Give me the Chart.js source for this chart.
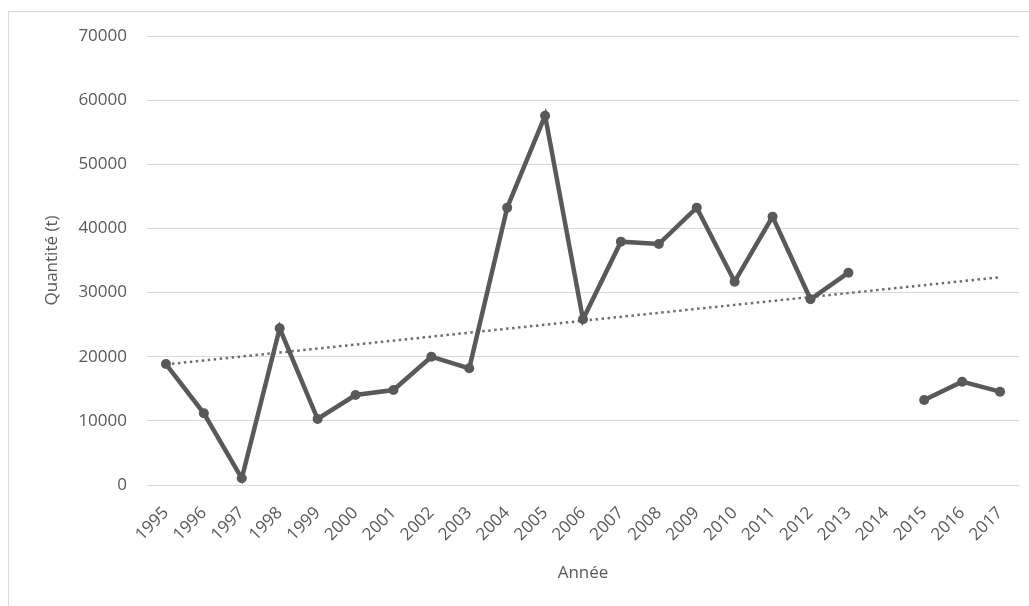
<!DOCTYPE html>
<html>
<head>
<meta charset="utf-8">
<script src="https://cdn.jsdelivr.net/npm/chart.js@4"></script>
<style>
  html, body { margin: 0; padding: 0; background: #fff; overflow: hidden; }
  #wrap { position: absolute; left: 0; top: 0; width: 1029px; height: 606px; }
</style>
</head>
<body>
<div id="wrap"><canvas id="c"></canvas></div>
<script>
const years = ['1995','1996','1997','1998','1999','2000','2001','2002','2003','2004','2005','2006','2007','2008','2009','2010','2011','2012','2013','2014','2015','2016','2017'];
const quantities = [18860, 11180, 1040, 24430, 10290, 14030, 14810, 20000, 18190, 43240, 57580, 25830, 37940, 37570, 43240, 31700, 41840, 28950, 33100, null, 13250, 16110, 14550];
const trendEnds = [18800, 32400];
const trend = years.map((y, i) => i === 0 ? trendEnds[0] : (i === years.length - 1 ? trendEnds[1] : null));
const yTicks = { min: 0, max: 70000, step: 10000 };

const FONT = '"Open Sans", "Noto Sans", sans-serif';
const GRAY = '#595959';

const frame = {
  id: 'frame',
  beforeDraw(chart) {
    const ctx = chart.ctx;
    ctx.save();
    ctx.fillStyle = '#fff';
    ctx.fillRect(0, 0, chart.width, chart.height);
    ctx.strokeStyle = '#d9d9d9';
    ctx.lineWidth = 1;
    ctx.strokeRect(8.5, 11.5, 1200, 800);
    ctx.restore();
  }
};

new Chart(document.getElementById('c'), {
  type: 'line',
  data: {
    labels: years,
    datasets: [
      {
        label: 'Quantité',
        data: quantities,
        borderColor: GRAY,
        backgroundColor: GRAY,
        borderWidth: 4.5,
        pointRadius: 5,
        pointHoverRadius: 5,
        pointBackgroundColor: GRAY,
        pointBorderWidth: 0,
        tension: 0,
        spanGaps: false,
        order: 1
      },
      {
        label: 'Tendance',
        data: trend,
        borderColor: '#6e6e6e',
        borderWidth: 2.5,
        borderDash: [2.5, 3.5],
        borderCapStyle: 'butt',
        pointRadius: 0,
        tension: 0,
        spanGaps: true,
        order: 2
      }
    ]
  },
  options: {
    responsive: true,
    maintainAspectRatio: false,
    animation: false,
    devicePixelRatio: 1,
    layout: { padding: { left: 0, right: 10, top: 36, bottom: 0 } },
    plugins: { legend: { display: false }, tooltip: { enabled: false } },
    scales: {
      x: {
        offset: true,
        grid: { display: false },
        border: { display: false },
        ticks: {
          color: GRAY,
          font: { family: FONT, size: 17 },
          minRotation: 45,
          maxRotation: 45,
          autoSkip: false,
          padding: 10
        },
        title: {
          display: true,
          text: 'Année',
          color: GRAY,
          font: { family: FONT, size: 17 },
          padding: { top: 0, bottom: 23 }
        },
        afterFit(scale) { scale.height = 121; }
      },
      y: {
        min: yTicks.min,
        max: yTicks.max,
        grid: { color: '#d9d9d9', lineWidth: 1, drawTicks: false },
        border: { display: false },
        ticks: {
          stepSize: yTicks.step,
          color: GRAY,
          font: { family: FONT, size: 17 },
          padding: 20,
          callback: (v) => String(v)
        },
        title: {
          display: true,
          text: 'Quantité (t)',
          color: GRAY,
          font: { family: FONT, size: 17 },
          padding: { top: 42, bottom: 0 }
        },
        afterFit(scale) { scale.width = 147; }
      }
    }
  },
  plugins: [frame]
});
</script>
</body>
</html>
